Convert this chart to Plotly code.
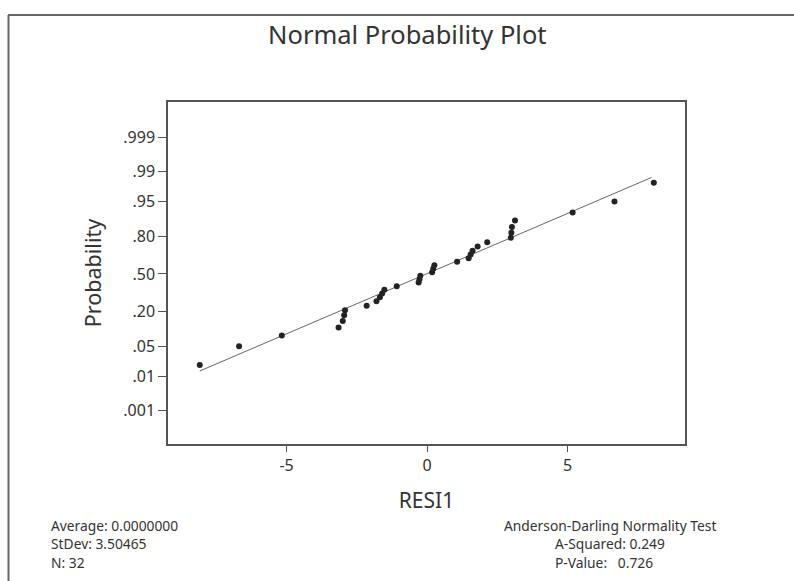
import plotly.graph_objects as go
from statistics import NormalDist

# ---- data ----
residuals = [-8.09, -6.69, -5.17, -3.15, -3.00, -2.95, -2.92, -2.15,
             -1.80, -1.68, -1.60, -1.52, -1.08, -0.30, -0.27, -0.24,
             0.18, 0.22, 0.26, 1.07, 1.48, 1.55, 1.62, 1.80,
             2.14, 2.98, 3.00, 3.02, 3.13, 5.18, 6.67, 8.07]
probabilities = [0.0194, 0.0504, 0.0814, 0.1124, 0.1434, 0.1744, 0.2054, 0.2364,
                 0.2674, 0.2984, 0.3295, 0.3605, 0.3915, 0.4225, 0.4535, 0.4845,
                 0.5155, 0.5465, 0.5775, 0.6085, 0.6395, 0.6705, 0.7016, 0.7326,
                 0.7636, 0.7946, 0.8256, 0.8566, 0.8876, 0.9186, 0.9496, 0.9806]
# fitted reference line end points
fit_x = [-8.09, 7.99]
fit_prob = [0.0139, 0.9857]
prob_ticks = [0.001, 0.01, 0.05, 0.20, 0.50, 0.80, 0.95, 0.99, 0.999]
prob_tick_labels = [".001", ".01", ".05", ".20", ".50", ".80", ".95", ".99", ".999"]
x_ticks = [-5, 0, 5]
mean_val = 0.0
std_val = 3.50465
n_val = 32
a_squared = 0.249
p_value = 0.726

nd = NormalDist()
z_points = [nd.inv_cdf(p) for p in probabilities]
z_ticks = [nd.inv_cdf(p) for p in prob_ticks]
fit_z = [nd.inv_cdf(p) for p in fit_prob]

font_family = "Noto Sans, DejaVu Sans, sans-serif"
txt_col = "#333333"

fig = go.Figure()
fig.add_trace(go.Scatter(x=fit_x, y=fit_z, mode="lines",
                         line=dict(color="#666666", width=1), hoverinfo="skip",
                         showlegend=False))
fig.add_trace(go.Scatter(x=residuals, y=z_points, mode="markers",
                         marker=dict(color="#222222", size=6, symbol="circle"),
                         showlegend=False))

fig.update_layout(
    width=794, height=581,
    margin=dict(l=168, r=109, t=102, b=137),
    paper_bgcolor="white", plot_bgcolor="white",
    font=dict(family=font_family, color=txt_col),
    title=dict(text="Normal Probability Plot", x=0.513, xanchor="center",
               y=1 - 35 / 581, yanchor="middle",
               font=dict(size=25.5, color=txt_col, family=font_family)),
    xaxis=dict(range=[-9.22, 9.18], tickvals=x_ticks, ticktext=["-5", "0", "5"],
               showgrid=False, zeroline=False, showline=True, linecolor="#555555",
               linewidth=1.5, mirror=True, ticks="outside", ticklen=6,
               tickcolor="#555555", tickfont=dict(size=16, color=txt_col),
               title=dict(text="RESI1", font=dict(size=21, color=txt_col), standoff=18)),
    yaxis=dict(range=[-3.855, 3.90], tickvals=z_ticks, ticktext=prob_tick_labels,
               showgrid=False, zeroline=False, showline=True, linecolor="#555555",
               linewidth=1.5, mirror=True, ticks="outside", ticklen=8,
               tickcolor="#555555", tickfont=dict(size=16, color=txt_col),
               title=dict(text="Probability", font=dict(size=21.5, color=txt_col), standoff=16)),
)

# outer frame lines (top and left)
fig.add_shape(type="line", xref="paper", yref="paper",
              x0=(8 - 168) / 517, x1=(794 - 168) / 517,
              y0=(444 - 15) / 342, y1=(444 - 15) / 342,
              line=dict(color="#666666", width=2))
fig.add_shape(type="line", xref="paper", yref="paper",
              x0=(8.5 - 168) / 517, x1=(8.5 - 168) / 517,
              y0=(444 - 15) / 342, y1=(444 - 600) / 342,
              line=dict(color="#666666", width=2))

def px_x(px):
    return (px - 168) / 517

def px_y(py):
    return (444 - py) / 342

small = 13.8
left_lines = [f"Average: {mean_val:.7f}", f"StDev: {std_val}", f"N: {n_val}"]
for i, t in enumerate(left_lines):
    fig.add_annotation(text=t, xref="paper", yref="paper", x=px_x(49), y=px_y(525 + 18.5 * i),
                       xanchor="left", yanchor="middle", showarrow=False,
                       font=dict(size=small, color=txt_col, family=font_family))

fig.add_annotation(text="Anderson-Darling Normality Test", xref="paper", yref="paper",
                   x=px_x(502), y=px_y(525), xanchor="left", yanchor="middle", showarrow=False,
                   font=dict(size=small, color=txt_col, family=font_family))
fig.add_annotation(text=f"A-Squared: {a_squared}", xref="paper", yref="paper",
                   x=px_x(553), y=px_y(543.5), xanchor="left", yanchor="middle", showarrow=False,
                   font=dict(size=small, color=txt_col, family=font_family))
fig.add_annotation(text=f"P-Value:&nbsp;&nbsp;&nbsp;{p_value}", xref="paper", yref="paper",
                   x=px_x(553), y=px_y(562), xanchor="left", yanchor="middle", showarrow=False,
                   font=dict(size=small, color=txt_col, family=font_family))

fig.write_html("out.html")
